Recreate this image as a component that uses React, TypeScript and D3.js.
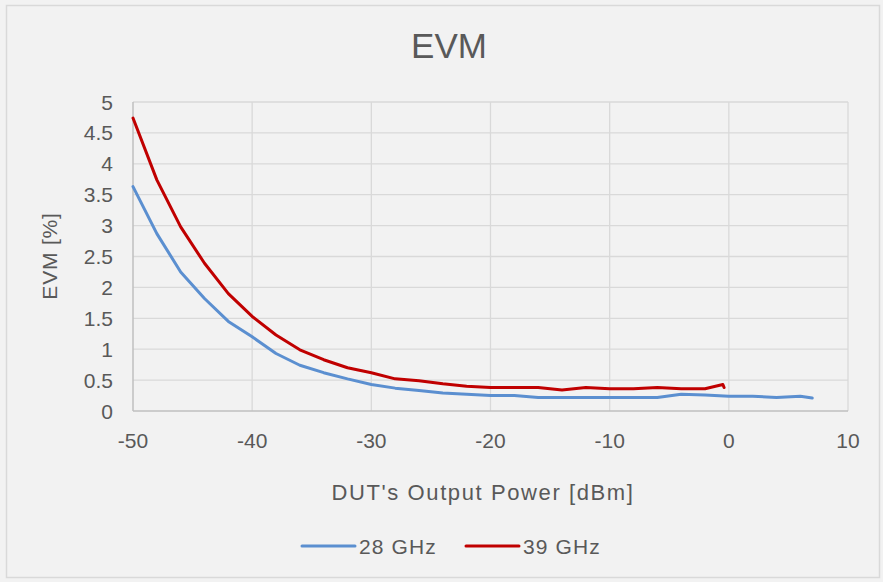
import React, { useEffect, useRef } from 'react';
import * as d3 from 'd3';

const power28 = [-50, -48, -46, -44, -42, -40, -38, -36, -34, -32, -30, -28, -26, -24, -22, -20, -18, -16, -14, -12, -10, -8, -6, -4, -2, 0, 2, 4, 6, 7];
const evm28 = [3.63, 2.87, 2.25, 1.82, 1.45, 1.2, 0.93, 0.74, 0.62, 0.52, 0.43, 0.37, 0.33, 0.29, 0.27, 0.25, 0.25, 0.22, 0.22, 0.22, 0.22, 0.22, 0.22, 0.27, 0.26, 0.24, 0.24, 0.22, 0.24, 0.21];

const power39 = [-50, -48, -46, -44, -42, -40, -38, -36, -34, -32, -30, -28, -26, -24, -22, -20, -18, -16, -14, -12, -10, -8, -6, -4, -2, -0.5, -0.4];
const evm39 = [4.74, 3.74, 2.98, 2.39, 1.9, 1.53, 1.23, 0.99, 0.83, 0.7, 0.62, 0.52, 0.49, 0.44, 0.4, 0.38, 0.38, 0.38, 0.34, 0.38, 0.36, 0.36, 0.38, 0.36, 0.36, 0.43, 0.38];

const xTicks = [-50, -40, -30, -20, -10, 0, 10];
const yTicks = [0, 0.5, 1, 1.5, 2, 2.5, 3, 3.5, 4, 4.5, 5];

const seriesNames = ['28 GHz', '39 GHz'];
const seriesColors = ['#5b8fd0', '#c00000'];

const W = 883;
const H = 582;
const font = '"Liberation Sans", Arial, sans-serif';

const App: React.FC = () => {
  const svgRef = useRef<SVGSVGElement | null>(null);

  useEffect(() => {
    if (!svgRef.current) return;
    const svg = d3.select(svgRef.current);
    svg.selectAll('*').remove();

    const left = 133, right = 848, top = 102, bottom = 411;
    const x = d3.scaleLinear().domain([-50, 10]).range([left, right]);
    const y = d3.scaleLinear().domain([0, 5]).range([bottom, top]);

    // background + outer frame
    svg.append('rect').attr('width', W).attr('height', H).attr('fill', '#f2f2f2');
    svg.append('rect')
      .attr('x', 6.5).attr('y', 5.5).attr('width', W - 10).attr('height', H - 10)
      .attr('fill', 'none').attr('stroke', '#d9d9d9').attr('stroke-width', 1.5);

    // gridlines
    svg.append('g').selectAll('line').data(yTicks.filter((t) => t > 0)).join('line')
      .attr('x1', left).attr('x2', right)
      .attr('y1', (d) => y(d)).attr('y2', (d) => y(d))
      .attr('stroke', '#d9d9d9').attr('stroke-width', 1.3);
    svg.append('g').selectAll('line').data(xTicks.filter((t) => t > -50)).join('line')
      .attr('x1', (d) => x(d)).attr('x2', (d) => x(d))
      .attr('y1', top).attr('y2', bottom)
      .attr('stroke', '#d9d9d9').attr('stroke-width', 1.3);

    // axis lines
    svg.append('line').attr('x1', left).attr('x2', left).attr('y1', top).attr('y2', bottom)
      .attr('stroke', '#bfbfbf').attr('stroke-width', 1.5);
    svg.append('line').attr('x1', left).attr('x2', right).attr('y1', bottom).attr('y2', bottom)
      .attr('stroke', '#bfbfbf').attr('stroke-width', 1.5);

    // tick labels
    svg.append('g').selectAll('text').data(yTicks).join('text')
      .attr('x', left - 20).attr('y', (d) => y(d)).attr('dy', '0.36em')
      .attr('text-anchor', 'end')
      .style('font', `21px ${font}`).attr('fill', '#595959')
      .text((d) => String(d));
    svg.append('g').selectAll('text').data(xTicks).join('text')
      .attr('x', (d) => x(d)).attr('y', 448)
      .attr('text-anchor', 'middle')
      .style('font', `21px ${font}`).attr('fill', '#595959')
      .text((d) => String(d));

    // lines
    const line = d3.line<[number, number]>().x((d) => x(d[0])).y((d) => y(d[1]));
    const series: [number, number][][] = [
      power28.map((p, i) => [p, evm28[i]]),
      power39.map((p, i) => [p, evm39[i]]),
    ];
    series.forEach((s, i) => {
      svg.append('path').datum(s)
        .attr('d', line)
        .attr('fill', 'none')
        .attr('stroke', seriesColors[i])
        .attr('stroke-width', 3)
        .attr('stroke-linejoin', 'round')
        .attr('stroke-linecap', 'round');
    });

    // titles
    svg.append('text').attr('x', 449).attr('y', 58).attr('text-anchor', 'middle')
      .style('font', `35px ${font}`).attr('fill', '#595959').text('EVM');
    svg.append('text').attr('x', 483).attr('y', 500).attr('text-anchor', 'middle')
      .style('font', `22px ${font}`).style('letter-spacing', '1.6px')
      .attr('fill', '#595959').text("DUT's Output Power [dBm]");
    svg.append('text')
      .attr('transform', `translate(57,256) rotate(-90)`)
      .attr('text-anchor', 'middle')
      .style('font', `21px ${font}`).style('letter-spacing', '0.8px')
      .attr('fill', '#595959').text('EVM [%]');

    // legend
    const legendX = [302, 466];
    seriesNames.forEach((name, i) => {
      const g = svg.append('g').attr('transform', `translate(${legendX[i]},546)`);
      g.append('line').attr('x1', 0).attr('x2', 53).attr('y1', 0).attr('y2', 0)
        .attr('stroke', seriesColors[i]).attr('stroke-width', 3).attr('stroke-linecap', 'round');
      g.append('text').attr('x', 57).attr('y', 0).attr('dy', '0.36em')
        .style('font', `21px ${font}`).style('letter-spacing', '1.1px')
        .attr('fill', '#595959').text(name);
    });
  }, []);

  return (
    <svg
      ref={svgRef}
      width={W}
      height={H}
      style={{ position: 'absolute', left: 0, top: 0, display: 'block' }}
    />
  );
};

export default App;
